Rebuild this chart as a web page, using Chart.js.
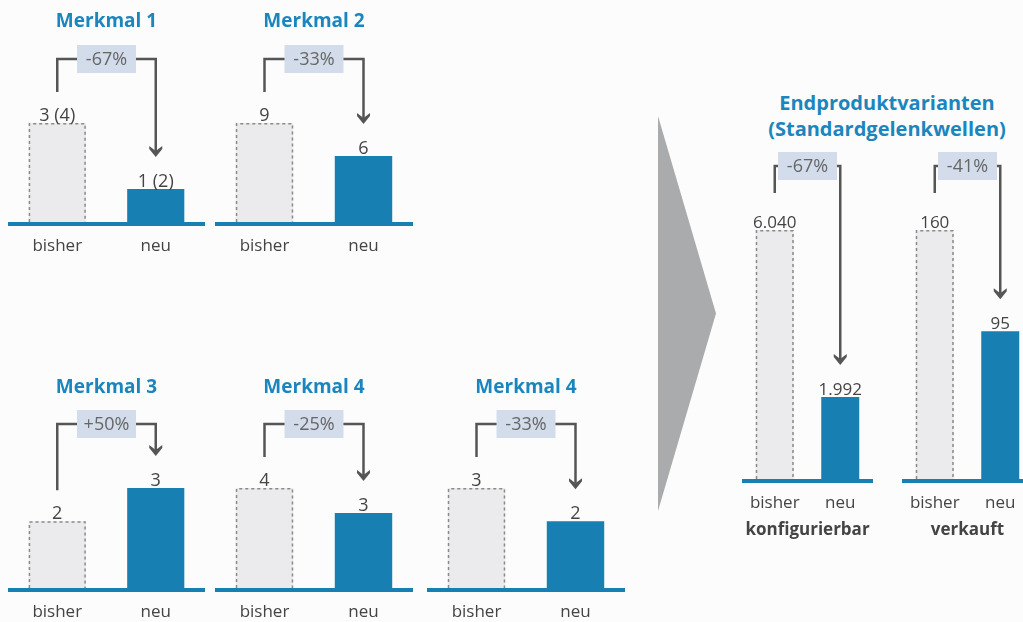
<!DOCTYPE html>
<html lang="de">
<head>
<meta charset="utf-8">
<title>Merkmale und Endproduktvarianten</title>
<script src="https://cdn.jsdelivr.net/npm/chart.js@4.4.1/dist/chart.umd.min.js"></script>
<style>
	html, body { margin: 0; padding: 0; background: #fcfcfc; }
	#stage { position: relative; width: 1023px; height: 622px; overflow: hidden; font-family: 'Open Sans', sans-serif; }
	#stage canvas { position: absolute; left: 0; top: 0; }
	.chevron {
		position: absolute; left: 658px; top: 116px; width: 58px; height: 395px;
		background: #a9abad; clip-path: polygon(0 0, 100% 50%, 0 100%);
	}
	.groupTitle {
		position: absolute; left: 737px; top: 90px; width: 300px; text-align: center;
		font-weight: 700; font-size: 20px; line-height: 26px; color: #1a86bd;
	}
</style>
</head>
<body>
<div id="stage">
	<div class="chevron"></div>
	<div class="groupTitle">Endproduktvarianten<br>(Standardgelenkwellen)</div>
</div>
<script>
(function () {
	/*global Chart */

	// Data
	var categories = ['bisher', 'neu'];
	var panelNames = ['Merkmal 1', 'Merkmal 2', 'Merkmal 3', 'Merkmal 4', 'Merkmal 4', 'konfigurierbar', 'verkauft'];
	var oldValues = [3, 9, 2, 4, 3, 6040, 160];
	var newValues = [1, 6, 3, 3, 2, 1992, 95];
	var oldLabels = ['3 (4)', '9', '2', '4', '3', '6.040', '160'];
	var newLabels = ['1 (2)', '6', '3', '3', '2', '1.992', '95'];
	var changeLabels = ['-67%', '-33%', '+50%', '-25%', '-33%', '-67%', '-41%'];

	// Where each little chart sits on the page (chart area in px)
	var layouts = [
		{ left: 8, right: 205, top: 123, bottom: 222, name: 'top', valueSize: 18, gap: 31 },
		{ left: 215, right: 413, top: 123, bottom: 222, name: 'top', valueSize: 18, gap: 31 },
		{ left: 8, right: 205, top: 488, bottom: 588, name: 'top', valueSize: 18, gap: 31 },
		{ left: 215, right: 413, top: 488, bottom: 588, name: 'top', valueSize: 18, gap: 31 },
		{ left: 427, right: 625, top: 488, bottom: 588, name: 'top', valueSize: 18, gap: 31 },
		{ left: 742, right: 873, top: 230, bottom: 479, name: 'bottom', valueSize: 17, gap: 37 },
		{ left: 902, right: 1033, top: 230, bottom: 479, name: 'bottom', valueSize: 17, gap: 37 }
	];

	var CANVAS_W = 1100,
		CANVAS_H = 622,
		blue = '#177fb2',
		oldFill = '#ebebed',
		textColor = '#444',
		lineColor = '#555';

	// Draws the frame around each chart: outlines, baseline, labels, bracket arrow
	var panelDecor = {
		id: 'panelDecor',
		afterDatasetsDraw: function (chart, args, opts) {
			var ctx = chart.ctx,
				area = chart.chartArea,
				bars = chart.getDatasetMeta(0).data,
				b0 = bars[0],
				b1 = bars[1],
				hw = b0.width / 2;

			ctx.save();

			// dashed outline of the old bar
			ctx.strokeStyle = '#8a8a8a';
			ctx.lineWidth = 1.5;
			ctx.setLineDash([3, 3]);
			ctx.beginPath();
			ctx.moveTo(b0.x - hw + 0.75, b0.base);
			ctx.lineTo(b0.x - hw + 0.75, b0.y + 0.75);
			ctx.lineTo(b0.x + hw - 0.75, b0.y + 0.75);
			ctx.lineTo(b0.x + hw - 0.75, b0.base);
			ctx.stroke();
			ctx.setLineDash([]);

			// baseline
			ctx.fillStyle = blue;
			ctx.fillRect(area.left, area.bottom, area.right - area.left, 4);

			// value labels
			ctx.fillStyle = textColor;
			ctx.textAlign = 'center';
			ctx.textBaseline = 'alphabetic';
			ctx.font = opts.valueSize + 'px "Open Sans"';
			ctx.fillText(opts.oldLabel, b0.x, b0.y - 2);
			ctx.fillText(opts.newLabel, b1.x, b1.y - 2);

			// category labels
			ctx.font = '17px "Open Sans"';
			ctx.textBaseline = 'middle';
			var xScale = chart.scales.x;
			chart.data.labels.forEach(function (label, i) {
				ctx.fillText(label, xScale.getPixelForValue(i), area.bottom + 24);
			});

			// bracket with arrow
			var boxY = area.top - 64,
				midX = (b0.x + b1.x) / 2,
				tip = b1.y - 32;
			ctx.strokeStyle = lineColor;
			ctx.lineWidth = 2.5;
			ctx.beginPath();
			ctx.moveTo(b0.x, b0.y - opts.gap);
			ctx.lineTo(b0.x, boxY);
			ctx.lineTo(b1.x, boxY);
			ctx.lineTo(b1.x, tip - 6);
			ctx.stroke();
			ctx.fillStyle = lineColor;
			ctx.beginPath();
			ctx.moveTo(b1.x - 6.5, tip - 11);
			ctx.lineTo(b1.x, tip - 6);
			ctx.lineTo(b1.x + 6.5, tip - 11);
			ctx.lineTo(b1.x + 6.5, tip - 8);
			ctx.lineTo(b1.x, tip);
			ctx.lineTo(b1.x - 6.5, tip - 8);
			ctx.closePath();
			ctx.fill();

			// change box
			ctx.fillStyle = '#d3dcea';
			ctx.fillRect(midX - 29.5, boxY - 14, 59, 28);
			ctx.fillStyle = '#666';
			ctx.font = '18px "Open Sans"';
			ctx.fillText(opts.change, midX, boxY + 1);

			// panel name
			if (opts.namePos === 'top') {
				ctx.fillStyle = '#1a86bd';
				ctx.font = 'bold 19px "Open Sans"';
				ctx.fillText(opts.name, (area.left + area.right) / 2, area.bottom - 200);
			} else {
				ctx.fillStyle = textColor;
				ctx.font = 'bold 17px "Open Sans"';
				ctx.fillText(opts.name, (area.left + area.right) / 2, area.bottom + 51);
			}

			ctx.restore();
		}
	};

	var stage = document.getElementById('stage');

	for (var i = 0; i < layouts.length; i++) {
		var lay = layouts[i];
		var canvas = document.createElement('canvas');
		canvas.width = CANVAS_W;
		canvas.height = CANVAS_H;
		canvas.style.width = CANVAS_W + 'px';
		canvas.style.height = CANVAS_H + 'px';
		stage.appendChild(canvas);

		new Chart(canvas, {
			type: 'bar',
			data: {
				labels: categories,
				datasets: [
					{
						data: [oldValues[i], newValues[i]],
						backgroundColor: [oldFill, blue],
						borderWidth: 0,
						barPercentage: 0.58,
						categoryPercentage: 1
					}
				]
			},
			options: {
				responsive: false,
				animation: false,
				devicePixelRatio: 1,
				layout: {
					padding: {
						left: lay.left,
						right: CANVAS_W - lay.right,
						top: lay.top,
						bottom: CANVAS_H - lay.bottom
					}
				},
				scales: {
					x: { display: false },
					y: { display: false, min: 0, max: Math.max(oldValues[i], newValues[i]) }
				},
				plugins: {
					legend: { display: false },
					tooltip: { enabled: false },
					panelDecor: {
						name: panelNames[i],
						namePos: lay.name,
						oldLabel: oldLabels[i],
						newLabel: newLabels[i],
						change: changeLabels[i],
						valueSize: lay.valueSize,
						gap: lay.gap
					}
				}
			},
			plugins: [panelDecor]
		});
	}
})();
</script>
</body>
</html>
